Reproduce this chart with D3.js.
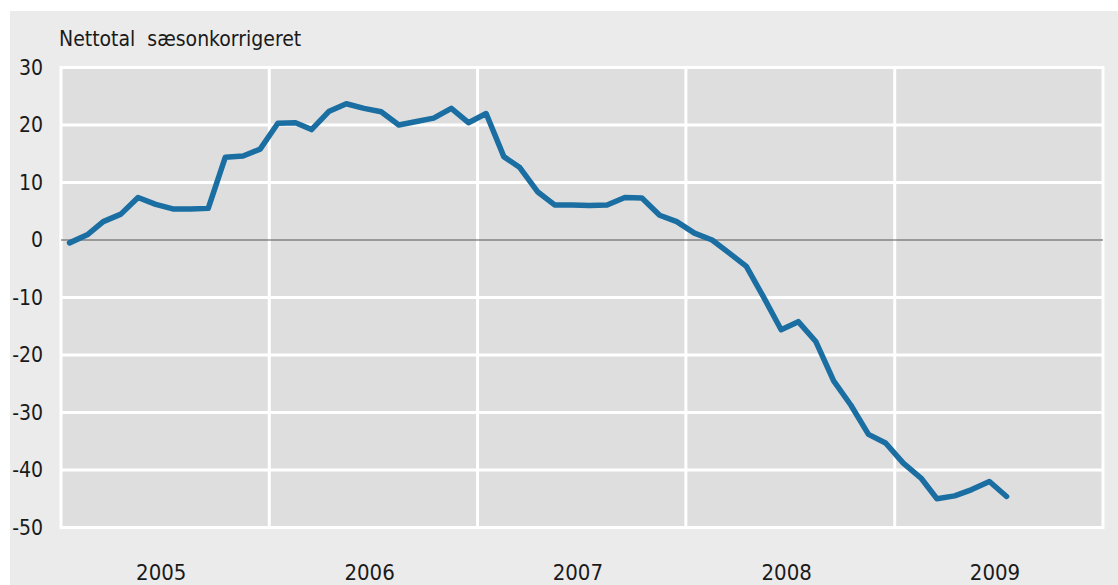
<!DOCTYPE html>
<html>
<head>
<meta charset="utf-8">
<script src="https://cdn.jsdelivr.net/npm/d3@7"></script>
<style>
  body { margin: 0; background: #fff; }
  text { font-family: "Liberation Sans Narrow", "DejaVu Sans Condensed", "Liberation Sans", sans-serif; fill: #1a1a1a; }
</style>
</head>
<body>
<div class="svg-container"></div>
<script>
var width = 1118;
var height = 585;

// monthly values (nettotal, saesonkorrigeret)
var values2005 = [-0.5, 0.9, 3.2, 4.5, 7.4, 6.2, 5.4, 5.4, 5.5, 14.4, 14.6, 15.8];
var values2006 = [20.3, 20.4, 19.2, 22.4, 23.7, 22.9, 22.3, 20.0, 20.6, 21.2, 22.9, 20.4];
var values2007 = [22.0, 14.5, 12.6, 8.4, 6.1, 6.1, 6.0, 6.1, 7.4, 7.3, 4.3, 3.2];
var values2008 = [1.2, 0.0, -2.2, -4.6, -9.9, -15.6, -14.2, -17.7, -24.5, -28.7, -33.8, -35.3];
var values2009 = [-38.8, -41.4, -45.0, -44.5, -43.4, -42.0, -44.6];

var years = [2005, 2006, 2007, 2008, 2009];
var yTicks = [30, 20, 10, 0, -10, -20, -30, -40, -50];
var titleText = "Nettotal  sæsonkorrigeret";

var padding = { "top": 67.5, "right": 15, "bottom": 57.5, "left": 61 };

var svg = d3.select(".svg-container")
            .append("svg")
            .attr("width", width)
            .attr("height", height);

// light outer panel
svg.append("rect")
   .attr("x", 10)
   .attr("y", 11)
   .attr("width", width - 10)
   .attr("height", height - 11)
   .attr("fill", "#ebebeb");

// build data from the yearly arrays
var allValues = [values2005, values2006, values2007, values2008, values2009];
var data = [];
allValues.forEach(function(arr, yi) {
    arr.forEach(function(v, m) {
        data.push({ date: new Date(years[yi], m, 16), value: v });
    });
});

var scaleX = d3.scaleTime()
               .domain([new Date(2005, 0, 1), new Date(2010, 0, 1)])
               .range([padding.left, width - padding.right]);

var scaleY = d3.scaleLinear()
               .domain([-50, 30])
               .range([height - padding.bottom, padding.top]);

var x0 = scaleX.range()[0], x1 = scaleX.range()[1];
var y0 = scaleY(30), y1 = scaleY(-50);

// plot area
svg.append("rect")
   .attr("x", x0)
   .attr("y", y0)
   .attr("width", x1 - x0)
   .attr("height", y1 - y0)
   .attr("fill", "#dedede")
   .attr("stroke", "#fff")
   .attr("stroke-width", 3);

// horizontal gridlines
svg.append("g")
   .selectAll("line")
   .data(yTicks.filter(function(d) { return d !== 0; }))
   .enter()
   .append("line")
   .attr("x1", x0)
   .attr("x2", x1)
   .attr("y1", function(d) { return scaleY(d); })
   .attr("y2", function(d) { return scaleY(d); })
   .attr("stroke", "#fff")
   .attr("stroke-width", 3);

// vertical gridlines at year boundaries
svg.append("g")
   .selectAll("line")
   .data(years.slice(1))
   .enter()
   .append("line")
   .attr("x1", function(d) { return scaleX(new Date(d, 0, 1)); })
   .attr("x2", function(d) { return scaleX(new Date(d, 0, 1)); })
   .attr("y1", y0)
   .attr("y2", y1)
   .attr("stroke", "#fff")
   .attr("stroke-width", 3);

// zero line
svg.append("line")
   .attr("x1", x0)
   .attr("x2", x1)
   .attr("y1", scaleY(0))
   .attr("y2", scaleY(0))
   .attr("stroke", "#555")
   .attr("stroke-width", 1.2);

// y tick labels
svg.append("g")
   .selectAll("text")
   .data(yTicks)
   .enter()
   .append("text")
   .attr("x", 43)
   .attr("y", function(d) { return scaleY(d); })
   .attr("dy", "0.35em")
   .attr("text-anchor", "end")
   .attr("font-size", 21)
   .text(function(d) { return d; });

// year labels
svg.append("g")
   .selectAll("text")
   .data(years)
   .enter()
   .append("text")
   .attr("x", function(d) { return scaleX(new Date(d, 6, 1)) - 3; })
   .attr("y", 580)
   .attr("text-anchor", "middle")
   .attr("font-size", 22)
   .text(function(d) { return d; });

// title
svg.append("text")
   .attr("x", 59)
   .attr("y", 46)
   .attr("font-size", 21)
   .style("white-space", "pre")
   .text(titleText);

// the series line
var line = d3.line()
             .x(function(d) { return scaleX(d.date); })
             .y(function(d) { return scaleY(d.value); });

svg.append("path")
   .datum(data)
   .attr("fill", "none")
   .attr("stroke", "#1a6ea2")
   .attr("stroke-width", 5.5)
   .attr("stroke-linejoin", "round")
   .attr("stroke-linecap", "round")
   .attr("d", line);
</script>
</body>
</html>
